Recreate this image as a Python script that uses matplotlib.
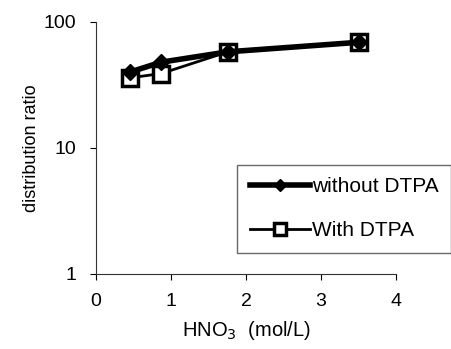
import numpy as np
import matplotlib
matplotlib.use("Agg")
import matplotlib.pyplot as plt

plt.rcParams['font.family'] = ['Liberation Sans', 'DejaVu Sans']

# data
hno3 = [0.45, 0.87, 1.76, 3.5]
without_dtpa = [40, 48, 58, 69]
with_dtpa = [36, 39, 58, 69]

fig = plt.figure(figsize=(4.51, 3.49), dpi=100)
ax = fig.add_axes([96 / 451, 1 - 274 / 349, 300 / 451, 252 / 349])

ax.plot(hno3, without_dtpa, color="black", linewidth=4, marker="D",
        markersize=8, markerfacecolor="black", label="without DTPA", zorder=3)
ax.plot(hno3, with_dtpa, color="black", linewidth=2, marker="s",
        markersize=11, markerfacecolor="white", markeredgewidth=2.5,
        label="With DTPA", zorder=2)

ax.set_yscale("log")
ax.set_xlim(0, 4)
ax.set_ylim(1, 100)
ax.set_xticks([0, 1, 2, 3, 4])
ax.set_yticks([1, 10, 100])
ax.set_yticklabels(["1", "10", "100"])
ax.minorticks_off()
ax.tick_params(axis="both", labelsize=14, direction="out", length=4, width=0.8)
ax.tick_params(axis="x", pad=10)
ax.tick_params(axis="y", pad=10)

for side in ["top", "right"]:
    ax.spines[side].set_visible(False)
ax.spines["left"].set_color("#333333")
ax.spines["bottom"].set_color("#333333")

ax.set_ylabel("distribution ratio", fontsize=13, labelpad=3)
ax.set_xlabel("HNO$_3$  (mol/L)", fontsize=14.5, labelpad=6)

leg = ax.legend(loc="upper left", bbox_to_anchor=(141 / 300, 109 / 252),
                borderaxespad=0, frameon=True, fancybox=False, fontsize=15,
                handlelength=2.9, handletextpad=0.1, borderpad=0.6,
                labelspacing=1.2, markerscale=0.8)
leg.get_frame().set_edgecolor("#444444")
leg.get_frame().set_linewidth(1.0)

fig.savefig("out.png", dpi=100)
